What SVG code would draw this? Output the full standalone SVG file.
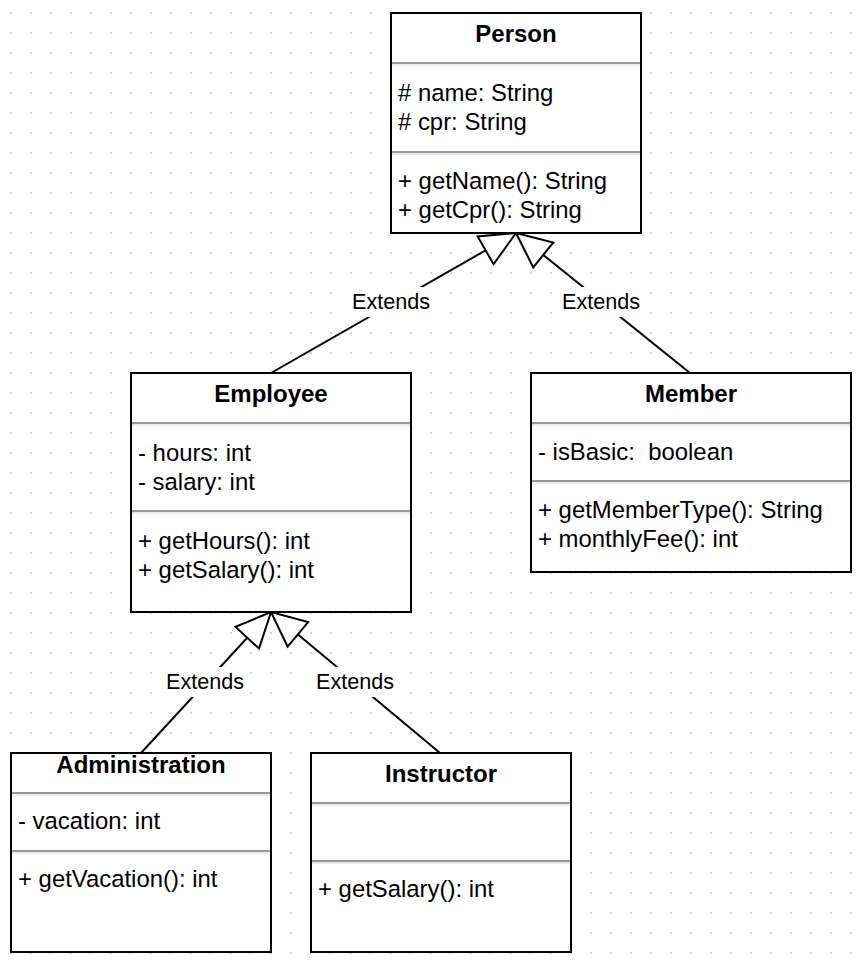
<svg xmlns="http://www.w3.org/2000/svg" width="864" height="966" viewBox="0 0 864 966">
  <style>
    .box { fill: #ffffff; stroke: #000000; stroke-width: 2; }
    .sep { stroke: #999999; stroke-width: 2; }
    .sep2 { stroke: #ebebeb; stroke-width: 2; }
    .title { font-family: "Liberation Sans", Arial, Helvetica, sans-serif; font-size: 24px; font-weight: bold; text-anchor: middle; fill: #000; }
    .txt { font-family: "Liberation Sans", Arial, Helvetica, sans-serif; font-size: 23.9px; fill: #000; }
    .edge { fill: none; stroke: #000000; stroke-width: 2; }
    .lblbg { fill: #ffffff; }
    .lbl { font-family: "Liberation Sans", Arial, Helvetica, sans-serif; font-size: 21.6px; text-anchor: middle; fill: #000; }
  </style>
  <defs>
    <pattern id="grid" x="10" y="12" width="20" height="20" patternUnits="userSpaceOnUse">
      <rect x="0" y="0" width="2" height="2" fill="#d4d4d4"/>
    </pattern>
    <marker id="inherit" markerUnits="userSpaceOnUse" viewBox="-3 -20 42 40" markerWidth="42" markerHeight="40" refX="35" refY="0" orient="auto">
      <path d="M35,0 L0,-16 L0,16 Z" fill="#ffffff" stroke="#000000" stroke-width="2" stroke-linejoin="miter"/>
    </marker>
  </defs>
  <rect x="0" y="0" width="864" height="966" fill="#ffffff"/>
  <rect x="0" y="0" width="864" height="966" fill="url(#grid)"/>

  <g id="connectors">
    <g id="edge-employee-person">
      <path class="edge" d="M271,373 L516,233" marker-end="url(#inherit)"/>
      <rect class="lblbg" x="346" y="287" width="90" height="30"/>
      <text class="lbl" x="391" y="309">Extends</text>
    </g>
    <g id="edge-member-person">
      <path class="edge" d="M690,373 L516,233" marker-end="url(#inherit)"/>
      <rect class="lblbg" x="556" y="287" width="90" height="30"/>
      <text class="lbl" x="601" y="309">Extends</text>
    </g>
    <g id="edge-administration-employee">
      <path class="edge" d="M141,753 L271,612" marker-end="url(#inherit)"/>
      <rect class="lblbg" x="160" y="667" width="90" height="30"/>
      <text class="lbl" x="205" y="689">Extends</text>
    </g>
    <g id="edge-instructor-employee">
      <path class="edge" d="M440,753 L271,612" marker-end="url(#inherit)"/>
      <rect class="lblbg" x="310" y="667" width="90" height="30"/>
      <text class="lbl" x="355" y="689">Extends</text>
    </g>
  </g>

  <g id="person">
    <rect class="box" x="391" y="13" width="250" height="220"/>
    <line class="sep" x1="392" y1="63" x2="640" y2="63"/>
    <line class="sep2" x1="392" y1="65" x2="640" y2="65"/>
    <line class="sep" x1="392" y1="152" x2="640" y2="152"/>
    <line class="sep2" x1="392" y1="154" x2="640" y2="154"/>
    <text class="title" x="516" y="42">Person</text>
    <text class="txt" x="398" y="101"># name: String</text>
    <text class="txt" x="398" y="130"># cpr: String</text>
    <text class="txt" x="398" y="189">+ getName(): String</text>
    <text class="txt" x="398" y="218">+ getCpr(): String</text>
  </g>

  <g id="employee">
    <rect class="box" x="131" y="373" width="280" height="239"/>
    <line class="sep" x1="132" y1="423" x2="410" y2="423"/>
    <line class="sep2" x1="132" y1="425" x2="410" y2="425"/>
    <line class="sep" x1="132" y1="511" x2="410" y2="511"/>
    <line class="sep2" x1="132" y1="513" x2="410" y2="513"/>
    <text class="title" x="271" y="402">Employee</text>
    <text class="txt" x="138" y="461">- hours: int</text>
    <text class="txt" x="138" y="490">- salary: int</text>
    <text class="txt" x="138" y="549">+ getHours(): int</text>
    <text class="txt" x="138" y="578">+ getSalary(): int</text>
  </g>

  <g id="member">
    <rect class="box" x="531" y="373" width="320" height="199"/>
    <line class="sep" x1="532" y1="423" x2="850" y2="423"/>
    <line class="sep2" x1="532" y1="425" x2="850" y2="425"/>
    <line class="sep" x1="532" y1="481" x2="850" y2="481"/>
    <line class="sep2" x1="532" y1="483" x2="850" y2="483"/>
    <text class="title" x="691" y="402">Member</text>
    <text class="txt" x="538" y="460" xml:space="preserve">- isBasic:  boolean</text>
    <text class="txt" x="538" y="518">+ getMemberType(): String</text>
    <text class="txt" x="538" y="547">+ monthlyFee(): int</text>
  </g>

  <g id="administration">
    <rect class="box" x="11" y="753" width="260" height="199"/>
    <line class="sep" x1="12" y1="793" x2="270" y2="793"/>
    <line class="sep2" x1="12" y1="795" x2="270" y2="795"/>
    <line class="sep" x1="12" y1="851" x2="270" y2="851"/>
    <line class="sep2" x1="12" y1="853" x2="270" y2="853"/>
    <text class="title" x="141" y="773">Administration</text>
    <text class="txt" x="18" y="829">- vacation: int</text>
    <text class="txt" x="18" y="887">+ getVacation(): int</text>
  </g>

  <g id="instructor">
    <rect class="box" x="311" y="753" width="260" height="199"/>
    <line class="sep" x1="312" y1="803" x2="570" y2="803"/>
    <line class="sep2" x1="312" y1="805" x2="570" y2="805"/>
    <line class="sep" x1="312" y1="861" x2="570" y2="861"/>
    <line class="sep2" x1="312" y1="863" x2="570" y2="863"/>
    <text class="title" x="441" y="782">Instructor</text>
    <text class="txt" x="318" y="897">+ getSalary(): int</text>
  </g>
</svg>
